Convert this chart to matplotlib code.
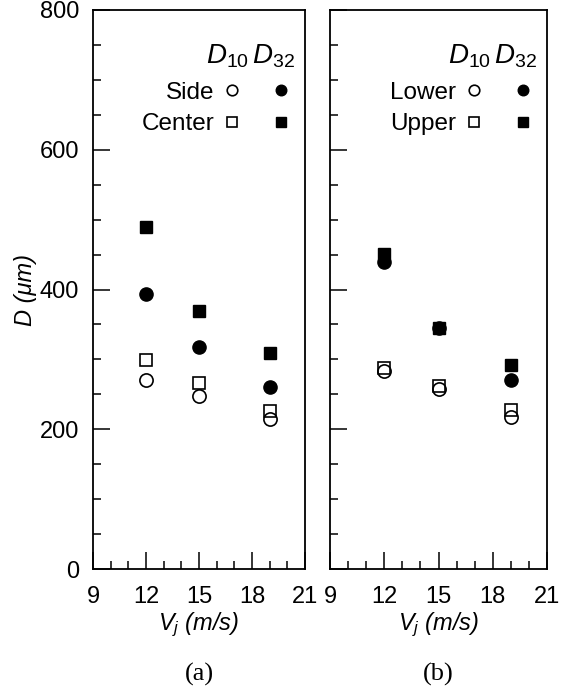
import matplotlib
matplotlib.use("Agg")
import matplotlib.pyplot as plt
from matplotlib.legend_handler import HandlerTuple

# jet velocity (m/s)
vj = [12, 15, 19]

# panel (a): side / center
side_d10 = [270, 247, 214]
side_d32 = [394, 318, 260]
center_d10 = [299, 266, 226]
center_d32 = [489, 369, 309]

# panel (b): lower / upper
lower_d10 = [284, 257, 217]
lower_d32 = [439, 345, 271]
upper_d10 = [288, 262, 227]
upper_d32 = [451, 345, 292]

x_ticks = [9, 12, 15, 18, 21]
y_ticks = [0, 200, 400, 600, 800]

plt.rcParams['font.family'] = ['Liberation Sans', 'DejaVu Sans']
plt.rcParams['mathtext.fontset'] = 'custom'
plt.rcParams['mathtext.rm'] = 'Liberation Sans'
plt.rcParams['mathtext.it'] = 'Liberation Sans:italic'

W, H = 566, 688
fig = plt.figure(figsize=(W / 100, H / 100), dpi=100)
ax_a = fig.add_axes([93 / W, 1 - 569 / H, 212 / W, 559 / H])
ax_b = fig.add_axes([330 / W, 1 - 569 / H, 217 / W, 559 / H])


def setup_axes(ax, show_ylabels):
    ax.set_xlim(9, 21)
    ax.set_ylim(0, 800)
    ax.set_xticks(x_ticks)
    ax.set_xticks(range(9, 22), minor=True)
    ax.set_yticks(y_ticks)
    ax.set_yticks(range(0, 801, 50), minor=True)
    ax.tick_params(which='both', direction='in', top=False, right=False, width=1.1,
                   labelsize=17)
    ax.tick_params(which='major', length=12)
    ax.tick_params(which='minor', length=5.5)
    ax.tick_params(axis='x', pad=12)
    ax.tick_params(axis='y', pad=10, labelleft=show_ylabels)
    for s in ax.spines.values():
        s.set_linewidth(1.3)
    ax.set_xlabel(r'$V_j$ (m/s)', fontsize=17, style='italic', labelpad=2)


def draw_panel(ax, d10_1, d32_1, d10_2, d32_2, name1, name2, tag):
    o1, = ax.plot(vj, d10_1, 'o', ms=9.5, mfc='none', mec='black', mew=1.2)
    f1, = ax.plot(vj, d32_1, 'o', ms=9.5, mfc='black', mec='black')
    o2, = ax.plot(vj, d10_2, 's', ms=8.3, mfc='none', mec='black', mew=1.2)
    f2, = ax.plot(vj, d32_2, 's', ms=8.3, mfc='black', mec='black')
    ax.legend([(o1, f1), (o2, f2)], [name1, name2],
              handler_map={tuple: HandlerTuple(ndivide=None, pad=1.65)},
              loc='upper right', bbox_to_anchor=(0.91, 0.872),
              frameon=False, markerfirst=False, markerscale=0.8,
              handlelength=2.4, handletextpad=0.55, labelspacing=0.4,
              borderpad=0, borderaxespad=0, fontsize=17.5)
    ax.text(0.955, 0.905, r'$D_{10}\,D_{32}$', transform=ax.transAxes,
            ha='right', va='baseline', fontsize=20)
    ax.text(0.5, -0.188, tag, transform=ax.transAxes, ha='center', va='center',
            fontsize=19, family='Liberation Serif')


setup_axes(ax_a, True)
setup_axes(ax_b, False)
ax_a.set_ylabel('D (\u03bcm)', fontsize=17, style='italic', labelpad=2)

draw_panel(ax_a, side_d10, side_d32, center_d10, center_d32, 'Side', 'Center', '(a)')
draw_panel(ax_b, lower_d10, lower_d32, upper_d10, upper_d32, 'Lower', 'Upper', '(b)')

plt.savefig('out.png', dpi=100)
